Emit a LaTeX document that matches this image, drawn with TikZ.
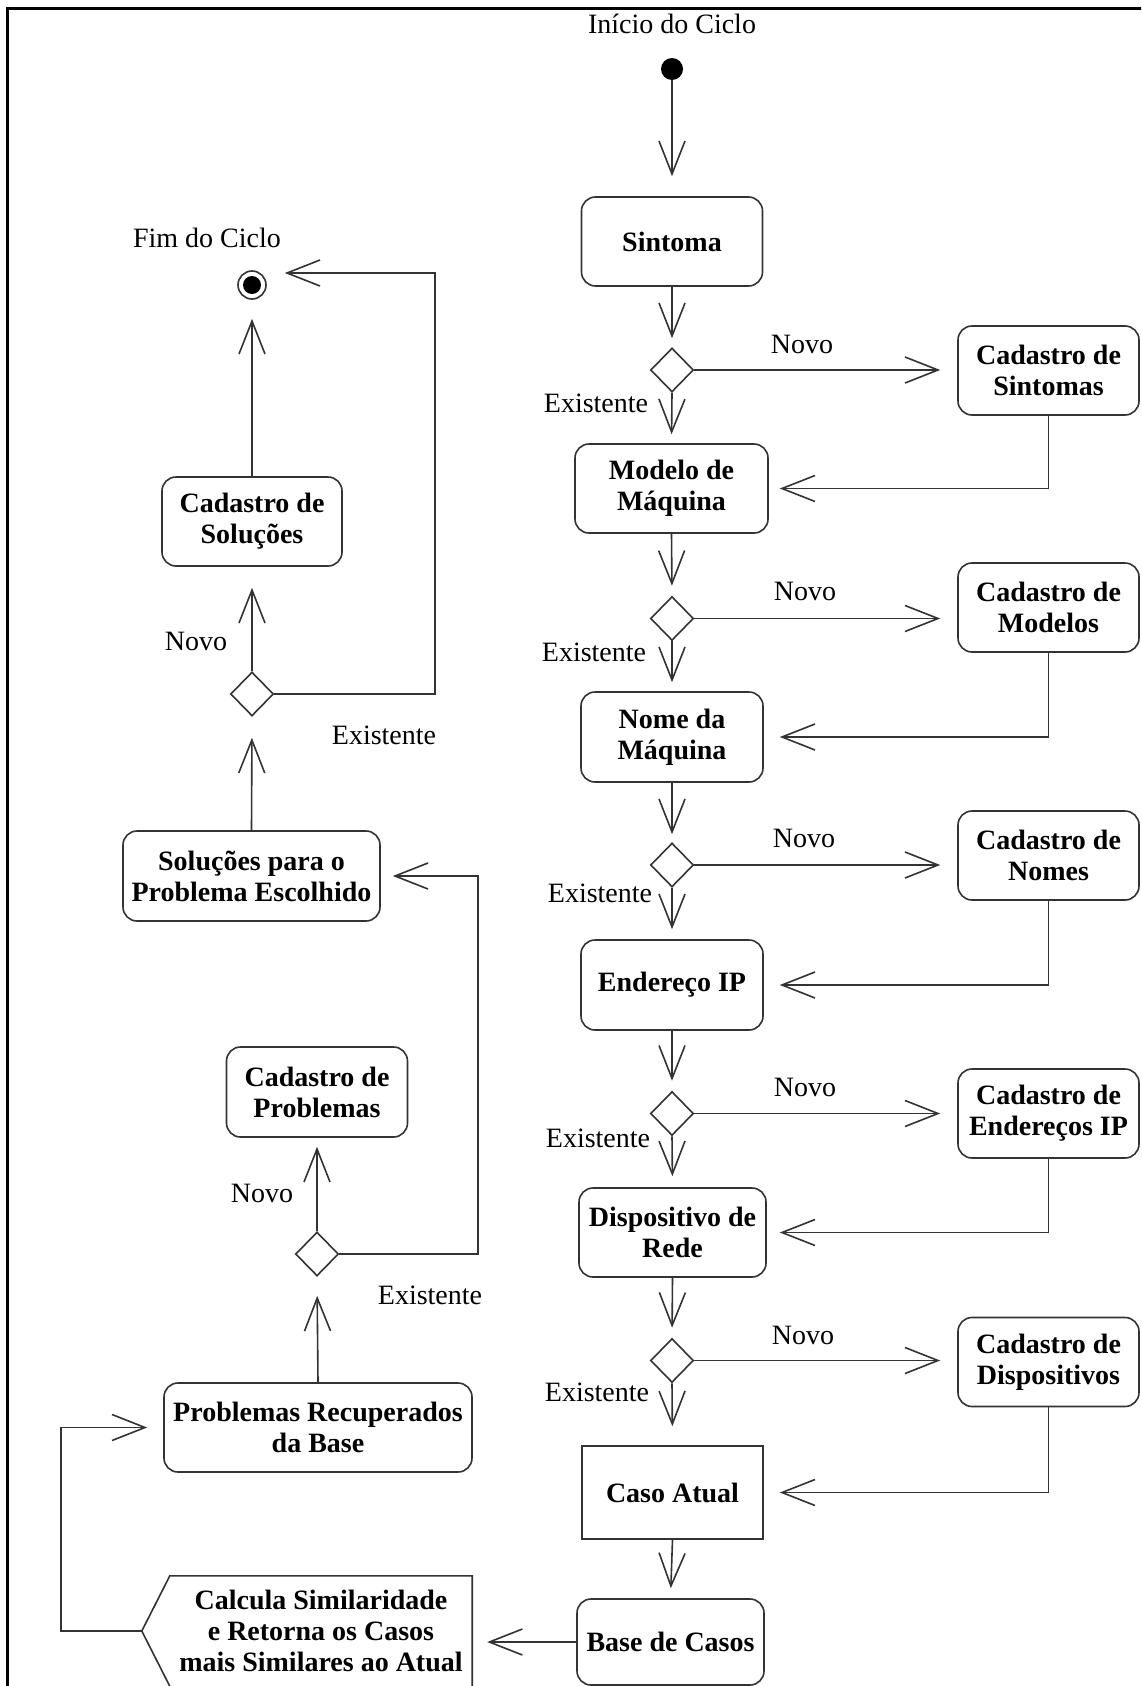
\documentclass[tikz,border=0pt]{standalone}
\usepackage{fontspec}
\setmainfont{Liberation Serif}
\usetikzlibrary{arrows.meta,shapes.geometric,calc}
\begin{document}
\begin{tikzpicture}[x=1pt,y=-1pt,
  txt/.style={font=\fontsize{28}{31}\selectfont},
  lbl/.style={txt, inner sep=0pt},
  ln/.style={draw=black!80, line width=1.6pt},
  actbox/.style={ln, rounded corners=14pt, minimum width=181pt, minimum height=89pt,
    inner sep=0pt, align=center, font=\fontsize{28}{31}\selectfont\bfseries},
  actrect/.style={ln, minimum width=181pt, minimum height=93pt,
    inner sep=0pt, align=center, font=\fontsize{28}{31}\selectfont\bfseries},
  decis/.style={diamond, ln, minimum width=43pt, minimum height=44pt, inner sep=0pt},
  arr/.style={ln, -{Straight Barb[length=33pt,width=26pt]}}
]
\useasboundingbox (0,0) rectangle (1141,1686);
\clip (0,0) rectangle (1141,1686);
\fill[white] (0,0) rectangle (1141,1686);
% frame
\draw[line width=3pt, black] (7,1690) -- (7,9) -- (1145,9);

% ---------- main column ----------
\node[lbl] (startlbl) at (672,24) {Início do Ciclo};
\node[circle, fill=black, minimum size=22pt, inner sep=0pt] (start) at (672,69) {};
\node[actbox] (sintoma) at (672,241.5) {Sintoma};
\node[decis] (d1) at (672,370) {};
\node[actbox] (cs1) at (1048.5,370.5) {Cadastro de\\Sintomas};
\node[actbox, minimum width=193pt] (modelo) at (671.5,488.5) {Modelo de\\Máquina};
\node[decis] (d2) at (672,618.5) {};
\node[actbox] (cs2) at (1048.5,607.5) {Cadastro de\\Modelos};
\node[actbox, minimum width=182pt, minimum height=90pt] (nome) at (672,737) {Nome da\\Máquina};
\node[decis] (d3) at (672,865) {};
\node[actbox] (cs3) at (1048.5,855.5) {Cadastro de\\Nomes};
\node[actbox, minimum width=182pt, minimum height=90pt] (ip) at (672,985) {Endereço IP};
\node[decis] (d4) at (672,1113.5) {};
\node[actbox] (cs4) at (1048.5,1113.5) {Cadastro de\\Endereços IP};
\node[actbox, minimum width=187pt] (disp) at (672.5,1232.5) {Dispositivo de\\Rede};
\node[decis] (d5) at (672,1360.5) {};
\node[actbox] (cs5) at (1048.5,1362) {Cadastro de\\Dispositivos};
\node[actrect] (caso) at (672.5,1492.5) {Caso Atual};
\node[actbox, minimum width=187pt, minimum height=86pt] (base) at (670.5,1642) {Base de Casos};

\node[lbl] (nv1) at (802,344) {Novo};
\node[lbl] (nv2) at (805,591) {Novo};
\node[lbl] (nv3) at (804,838) {Novo};
\node[lbl] (nv4) at (805,1087) {Novo};
\node[lbl] (nv5) at (803,1335) {Novo};
\node[lbl] (ex1) at (596,403) {Existente};
\node[lbl] (ex2) at (594,652) {Existente};
\node[lbl] (ex3) at (600,893) {Existente};
\node[lbl] (ex4) at (598,1138) {Existente};
\node[lbl] (ex5) at (597,1392) {Existente};

\draw[arr, shorten >=20pt] (start.south) -- (sintoma.north);
\draw[arr, shorten >=9pt] (sintoma.south) -- (d1.north);
\draw[arr, shorten >=9pt] (d1.south) -- (modelo.north);
\draw[arr, shorten >=17pt] (d1.east) -- (d1.east -| cs1.west);
\draw[arr, shorten >=11pt] (cs1.south) |- (modelo.east);

\draw[arr, shorten >=10pt] (modelo.south) -- (d2.north);
\draw[arr, shorten >=9pt] (d2.south) -- (nome.north);
\draw[arr, shorten >=17pt] (d2.east) -- (d2.east -| cs2.west);
\draw[arr, shorten >=16pt] (cs2.south) |- (nome.east);

\draw[arr, shorten >=8pt] (nome.south) -- (d3.north);
\draw[arr, shorten >=10pt] (d3.south) -- (ip.north);
\draw[arr, shorten >=17pt] (d3.east) -- (d3.east -| cs3.west);
\draw[arr, shorten >=16pt] (cs3.south) |- (ip.east);

\draw[arr, shorten >=10pt] (ip.south) -- (d4.north);
\draw[arr, shorten >=11pt] (d4.south) -- (disp.north);
\draw[arr, shorten >=17pt] (d4.east) -- (d4.east -| cs4.west);
\draw[arr, shorten >=13pt] (cs4.south) |- (disp.east);

\draw[arr, shorten >=10pt] (disp.south) -- (d5.north);
\draw[arr, shorten >=19pt] (d5.south) -- (caso.north);
\draw[arr, shorten >=17pt] (d5.east) -- (d5.east -| cs5.west);
\draw[arr, shorten >=16pt] (cs5.south) |- (caso.east);

\draw[arr, shorten >=10pt] (caso.south) -- (base.north);

% ---------- left column ----------
\node[lbl] (endlbl) at (207,238) {Fim do Ciclo};
\node[circle, ln, minimum size=28pt, inner sep=0pt] (end) at (252,285) {};
\fill[black] (end.center) circle[radius=9pt];
\node[actbox, minimum width=180pt] (csol) at (252,521.5) {Cadastro de\\Soluções};
\node[decis] (d6) at (252,694) {};
\node[lbl] (nv6) at (196,641) {Novo};
\node[lbl] (ex6) at (384,735) {Existente};
\node[actbox, minimum width=257pt, minimum height=90pt] (solp) at (251.5,876) {Soluções para o\\Problema Escolhido};
\node[actbox, minimum height=90pt] (cprob) at (317,1092) {Cadastro de\\Problemas};
\node[decis] (d7) at (317,1254) {};
\node[lbl] (nv7) at (262,1193) {Novo};
\node[lbl] (ex7) at (430,1295) {Existente};
\node[actbox, minimum width=308pt] (prec) at (318,1427.5) {Problemas Recuperados\\da Base};
\node[inner sep=0pt, minimum width=302pt, minimum height=110pt, align=center,
      font=\fontsize{28}{31}\selectfont\bfseries] (calc) at (321,1631)
      {Calcula Similaridade\\e Retorna os Casos\\mais Similares ao Atual};
\draw[ln] (calc.south east) -- (calc.north east) -- (calc.north west)
   -- ([xshift=-28pt]calc.west) -- (calc.south west);
\coordinate (calcpt) at ([xshift=-28pt]calc.west);
\coordinate (lp) at (61,1427.5);
\coordinate (c6) at (435,273);
\coordinate (c7) at (478,876);

\draw[arr, shorten >=19pt] (csol.north) -- (end.south);
\draw[arr, shorten >=21pt] (d6.north) -- (csol.south);
\draw[arr, shorten >=18pt] (d6.east) -| (c6) -- (c6 -| end.east);
\draw[arr, shorten >=21pt] (solp.north) -- (d6.south);
\draw[arr, shorten >=9pt] (d7.north) -- (cprob.south);
\draw[arr, shorten >=12pt] (d7.east) -| (c7) -- (solp.east);
\draw[arr, shorten >=19pt] (prec.north) -- (d7.south);
\draw[arr, shorten >=15pt] (base.west) -- (base.west -| calc.east);
\draw[arr, shorten >=16pt] (calcpt) -| (lp) -- (prec.west);
\end{tikzpicture}
\end{document}
